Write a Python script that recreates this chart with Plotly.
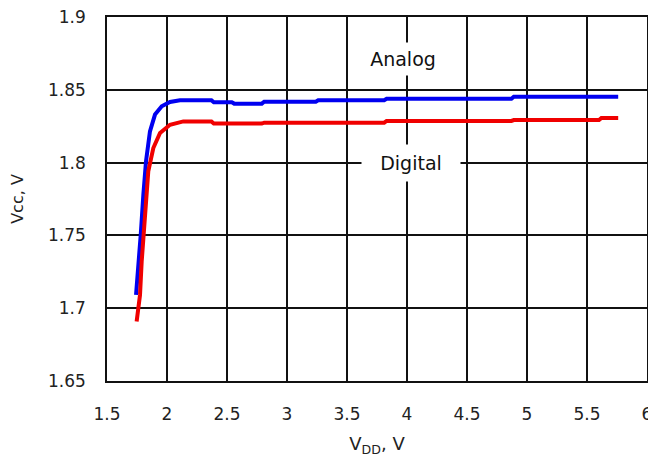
import plotly.graph_objects as go

# Analog (blue) supply output vs VDD
analog_vdd = [1.742, 1.761, 1.781, 1.803, 1.825, 1.858, 1.90, 1.956, 2.025, 2.108,
              2.37, 2.39, 2.54, 2.56, 2.79, 2.81, 3.24, 3.26, 3.81, 3.83, 4.87, 4.89, 5.76]
analog_vcc = [1.7091, 1.7274, 1.7504, 1.778, 1.8008, 1.8215, 1.833, 1.8387, 1.8416, 1.8428,
              1.8428, 1.8414, 1.8414, 1.8405, 1.8405, 1.8418, 1.8418, 1.8428, 1.8428, 1.8438,
              1.8438, 1.8452, 1.8452]

# Digital (red)
digital_vdd = [1.747, 1.775, 1.789, 1.817, 1.844, 1.886, 1.942, 2.025, 2.136,
               2.37, 2.39, 2.79, 2.81, 3.81, 3.83, 4.87, 4.89, 5.60, 5.62, 5.76]
digital_vcc = [1.6908, 1.7091, 1.732, 1.7664, 1.794, 1.810, 1.8203, 1.826, 1.8283,
               1.8283, 1.8268, 1.8268, 1.8274, 1.8274, 1.8286, 1.8286, 1.8292, 1.8292,
               1.8306, 1.8306]

x_ticks = [1.5, 2, 2.5, 3, 3.5, 4, 4.5, 5, 5.5, 6]
x_tick_text = ["1.5", "2", "2.5", "3", "3.5", "4", "4.5", "5", "5.5", "6"]
y_ticks = [1.65, 1.7, 1.75, 1.8, 1.85, 1.9]
y_tick_text = ["1.65", "1.7", "1.75", "1.8", "1.85", "1.9"]

FONT = "DejaVu Sans"

fig = go.Figure()
fig.add_trace(go.Scatter(x=analog_vdd, y=analog_vcc, mode="lines",
                         line=dict(color="#0000f0", width=4), name="Analog"))
fig.add_trace(go.Scatter(x=digital_vdd, y=digital_vcc, mode="lines",
                         line=dict(color="#f00000", width=4), name="Digital"))

fig.add_annotation(x=3.967, y=1.871, text="Analog", showarrow=False,
                   font=dict(family=FONT, size=19, color="#111"),
                   bgcolor="white", width=80, height=30)
fig.add_annotation(x=4.03, y=1.8, text="Digital", showarrow=False,
                   font=dict(family=FONT, size=19, color="#111"),
                   bgcolor="white", width=96, height=34)

axis_common = dict(showgrid=True, gridcolor="#111", gridwidth=1.6,
                   showline=True, linecolor="#111", linewidth=1.6, mirror=True,
                   zeroline=False, ticks="", automargin=False,
                   ticklabeloverflow="allow",
                   tickfont=dict(family=FONT, size=17, color="#222"))

fig.update_xaxes(range=[1.5, 6], tickvals=x_ticks, ticktext=x_tick_text,
                 ticklabelstandoff=17,
                 title=dict(text="V<sub>DD</sub>, V", font=dict(family=FONT, size=18, color="#222"),
                            standoff=14),
                 **axis_common)
fig.update_yaxes(range=[1.65, 1.9], tickvals=y_ticks, ticktext=y_tick_text,
                 ticklabelstandoff=16,
                 title=dict(text="Vcc, V", font=dict(family=FONT, size=16, color="#222"),
                            standoff=26),
                 **axis_common)

fig.update_layout(width=648, height=450, showlegend=False,
                  plot_bgcolor="white", paper_bgcolor="white",
                  margin=dict(l=99, r=9, t=9, b=77, autoexpand=False))

fig.write_html("out.html")
